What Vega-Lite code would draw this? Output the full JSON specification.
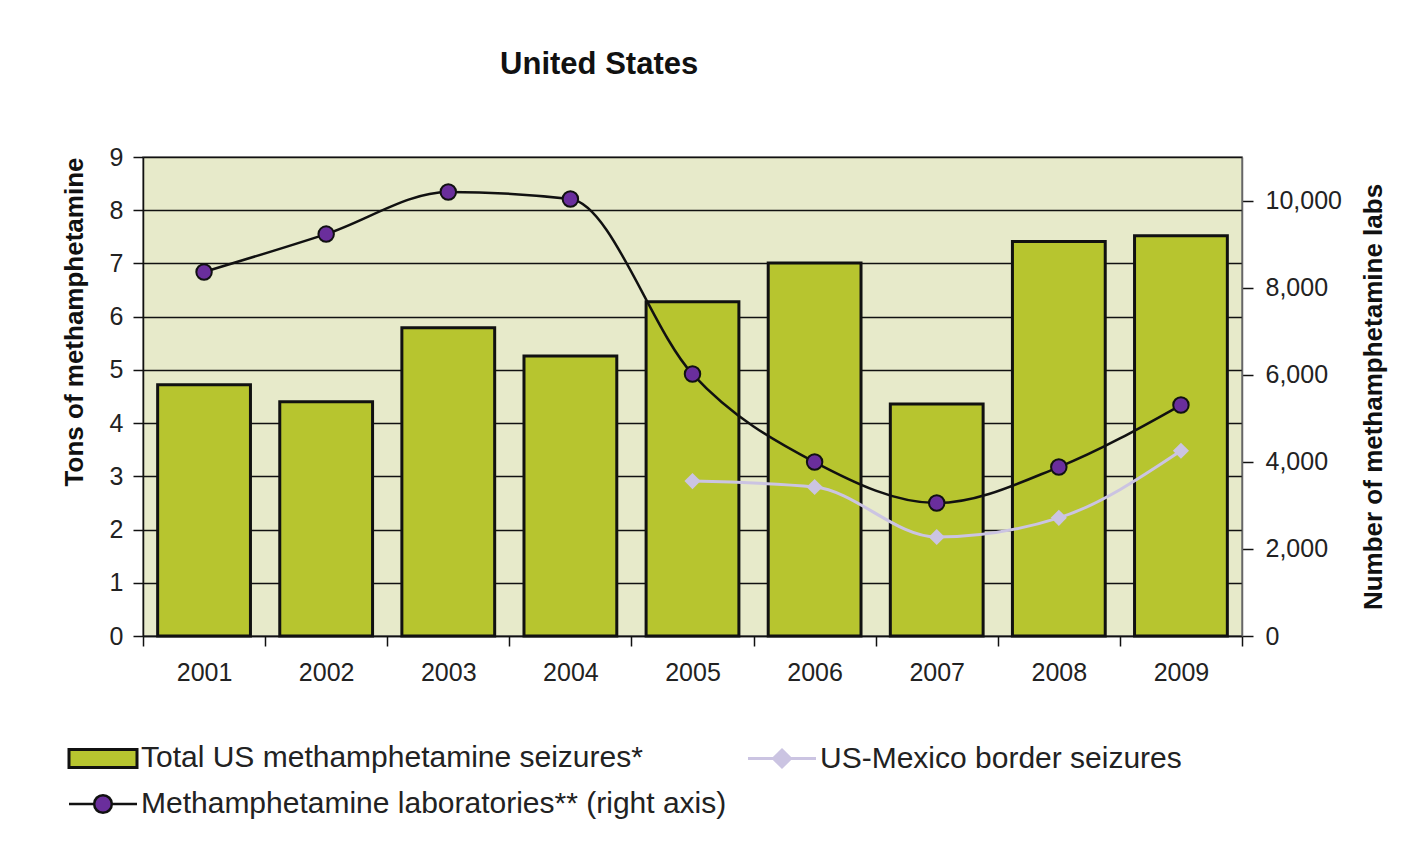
{
  "$schema": "https://vega.github.io/schema/vega-lite/v6.json",
  "autosize": {"type": "none"},
  "width": 1099,
  "height": 479,
  "padding": {"left": 143, "top": 157, "right": 166, "bottom": 210},
  "background": "white",
  "title": {
    "text": "United States",
    "font": "Liberation Sans",
    "fontSize": 31,
    "fontWeight": "bold",
    "color": "#111",
    "anchor": "start",
    "dx": 439,
    "offset": 64
  },
  "config": {
    "view": {"fill": "#E7EACA", "stroke": "#777", "strokeWidth": 1.5},
    "axis": {
      "labelFont": "Liberation Sans",
      "labelFontSize": 25,
      "labelColor": "#222",
      "titleFont": "Liberation Sans",
      "titleFontSize": 26,
      "titleFontWeight": "bold",
      "titleColor": "#111",
      "tickColor": "#111",
      "domainColor": "#111",
      "tickWidth": 1.5,
      "domainWidth": 1.5
    }
  },
  "data": {
    "values": [
      {"year": "2001", "series": "Total US methamphetamine seizures*", "value": 4.72},
      {"year": "2002", "series": "Total US methamphetamine seizures*", "value": 4.40},
      {"year": "2003", "series": "Total US methamphetamine seizures*", "value": 5.79},
      {"year": "2004", "series": "Total US methamphetamine seizures*", "value": 5.26},
      {"year": "2005", "series": "Total US methamphetamine seizures*", "value": 6.28},
      {"year": "2006", "series": "Total US methamphetamine seizures*", "value": 7.01},
      {"year": "2007", "series": "Total US methamphetamine seizures*", "value": 4.36},
      {"year": "2008", "series": "Total US methamphetamine seizures*", "value": 7.41},
      {"year": "2009", "series": "Total US methamphetamine seizures*", "value": 7.52},
      {"year": "2005", "series": "US-Mexico border seizures", "value": 2.91},
      {"year": "2006", "series": "US-Mexico border seizures", "value": 2.80},
      {"year": "2007", "series": "US-Mexico border seizures", "value": 1.86},
      {"year": "2008", "series": "US-Mexico border seizures", "value": 2.22},
      {"year": "2009", "series": "US-Mexico border seizures", "value": 3.48},
      {"year": "2001", "series": "Methamphetamine laboratories** (right axis)", "value": 8360},
      {"year": "2002", "series": "Methamphetamine laboratories** (right axis)", "value": 9230},
      {"year": "2003", "series": "Methamphetamine laboratories** (right axis)", "value": 10195},
      {"year": "2004", "series": "Methamphetamine laboratories** (right axis)", "value": 10035},
      {"year": "2005", "series": "Methamphetamine laboratories** (right axis)", "value": 6016},
      {"year": "2006", "series": "Methamphetamine laboratories** (right axis)", "value": 3995},
      {"year": "2007", "series": "Methamphetamine laboratories** (right axis)", "value": 3054},
      {"year": "2008", "series": "Methamphetamine laboratories** (right axis)", "value": 3880},
      {"year": "2009", "series": "Methamphetamine laboratories** (right axis)", "value": 5304}
    ]
  },
  "encoding": {
    "x": {
      "field": "year",
      "type": "ordinal",
      "scale": {"paddingInner": 0, "paddingOuter": 0},
      "axis": {
        "title": null,
        "labelAngle": 0,
        "tickBand": "extent",
        "tickSize": 10,
        "labelPadding": 14,
        "domainColor": "#111"
      }
    }
  },
  "layer": [
    {
      "layer": [
        {
          "transform": [{"filter": "datum.series === 'Total US methamphetamine seizures*'"}],
          "mark": {"type": "bar", "stroke": "#111", "strokeWidth": 3, "width": {"band": 0.76}},
          "encoding": {
            "y": {
              "field": "value",
              "type": "quantitative",
              "scale": {"domain": [0, 9], "nice": false},
              "axis": {
                "title": "Tons of methamphetamine",
                "titleAnchor": "end",
                "values": [0, 1, 2, 3, 4, 5, 6, 7, 8, 9],
                "grid": true,
                "gridColor": "#111",
                "gridWidth": 1.5,
                "tickSize": 10,
                "labelPadding": 10,
                "titlePadding": 22
              }
            },
            "fill": {
              "field": "series",
              "type": "nominal",
              "scale": {
                "domain": ["Total US methamphetamine seizures*", "US-Mexico border seizures", "Methamphetamine laboratories** (right axis)"],
                "range": ["#B7C52F", "#CBC4E2", "#6A2E9C"]
              },
              "legend": {
                "title": null,
                "orient": "none",
                "legendX": -55,
                "legendY": 586,
                "direction": "horizontal",
                "columns": 2,
                "columnPadding": 15,
                "rowPadding": 15,
                "padding": 0,
                "symbolSize": 4624,
                "symbolType": {"expr": "datum.value === 'Total US methamphetamine seizures*' ? 'M-1,-0.265H1V0.265H-1Z' : datum.value === 'US-Mexico border seizures' ? 'M-1,0H1M0,-0.25L0.25,0L0,0.25L-0.25,0Z' : 'M-1,0H-0.26A0.26,0.26 0 1,1 0.26,0A0.26,0.26 0 1,1 -0.26,0M0.26,0H1'"},
                "symbolStrokeColor": {"expr": "datum.value === 'US-Mexico border seizures' ? '#CBC4E2' : '#111'"},
                "symbolStrokeWidth": {"expr": "datum.value === 'Methamphetamine laboratories** (right axis)' ? 2.5 : 3"},
                "symbolOpacity": 1,
                "labelFont": "Liberation Sans",
                "labelFontSize": 30,
                "labelColor": "#222",
                "labelOffset": 23,
                "labelLimit": 800
              }
            }
          }
        },
        {
          "transform": [{"filter": "datum.series === 'US-Mexico border seizures'"}],
          "mark": {"type": "line", "color": "#CBC4E2", "strokeWidth": 3, "interpolate": "monotone"},
          "encoding": {
            "y": {"field": "value", "type": "quantitative"}
          }
        },
        {
          "transform": [{"filter": "datum.series === 'US-Mexico border seizures'"}],
          "mark": {"type": "point", "shape": "diamond", "filled": true, "size": 260, "opacity": 1, "strokeWidth": 0},
          "encoding": {
            "y": {"field": "value", "type": "quantitative"},
            "fill": {"field": "series", "type": "nominal", "legend": null}
          }
        }
      ]
    },
    {
      "layer": [
        {
          "transform": [{"filter": "datum.series === 'Methamphetamine laboratories** (right axis)'"}],
          "mark": {"type": "line", "color": "#111", "strokeWidth": 2.5, "interpolate": "monotone"},
          "encoding": {
            "y": {
              "field": "value",
              "type": "quantitative",
              "scale": {"domain": [0, 11000], "nice": false},
              "axis": {
                "orient": "right",
                "title": "Number of methamphetamine labs",
                "titleAngle": 270,
                "values": [0, 2000, 4000, 6000, 8000, 10000],
                "format": ",.0f",
                "grid": false,
                "tickSize": 11,
                "labelPadding": 12,
                "titlePadding": 45,
                "domainColor": "#666"
              }
            }
          }
        },
        {
          "transform": [{"filter": "datum.series === 'Methamphetamine laboratories** (right axis)'"}],
          "mark": {"type": "point", "shape": "circle", "filled": true, "size": 240, "opacity": 1, "stroke": "#111", "strokeWidth": 2},
          "encoding": {
            "y": {"field": "value", "type": "quantitative"},
            "fill": {"field": "series", "type": "nominal", "legend": null}
          }
        }
      ]
    }
  ],
  "resolve": {"scale": {"y": "independent"}}
}
